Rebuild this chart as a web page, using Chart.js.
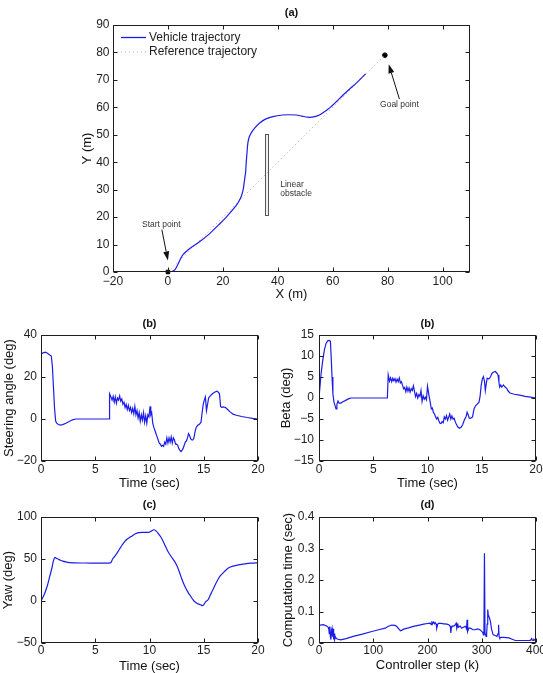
<!DOCTYPE html>
<html>
<head>
<meta charset="utf-8">
<script src="https://cdn.jsdelivr.net/npm/chart.js@4.4.1/dist/chart.umd.min.js"></script>
<style>
  body { margin: 0; background: #fff; width: 543px; height: 673px; overflow: hidden; position: relative; }
  canvas { position: absolute; }
</style>
</head>
<body>
<canvas id="chartA" style="left:0;top:0" width="543" height="306"></canvas>
<canvas id="chartSteer" style="left:0;top:310px" width="270" height="185"></canvas>
<canvas id="chartBeta" style="left:272px;top:310px" width="271" height="185"></canvas>
<canvas id="chartYaw" style="left:0;top:492px" width="270" height="181"></canvas>
<canvas id="chartComp" style="left:272px;top:492px" width="271" height="181"></canvas>
<script>
// ---- data ----
const xTicksA = [-20, 0, 20, 40, 60, 80, 100];
const yTicksA = [0, 10, 20, 30, 40, 50, 60, 70, 80, 90];
const timeTicks = [0, 5, 10, 15, 20];
const steerTicks = [-20, 0, 20, 40];
const betaTicks = [-15, -10, -5, 0, 5, 10, 15];
const yawTicks = [-50, 0, 50, 100];
const stepTicks = [0, 100, 200, 300, 400];
const compTicks = [0, 0.1, 0.2, 0.3, 0.4];

// (a) path in metres [x, y]
const vehiclePath = [[1.2,0],[2.5,0.8],[3.6,2.7],[4.6,4.8],[5.5,6.3],[7.5,8.2],[11.5,11],[15.2,14],[18.8,17.5],[21.5,20.3],[24.9,24.3],[25.8,25.7],[26.7,27.5],[27.4,30],[27.9,33.6],[28.3,36.5],[28.5,39.7],[28.8,43.5],[29.1,46.9],[29.6,49.2],[30.3,50.6],[31.5,52.3],[33.3,54.2],[35.5,55.7],[38.2,56.6],[41.8,57.2],[44,57.3],[46.7,57.2],[48.8,56.8],[50.9,56.4],[53,56.5],[55.2,57.2],[56.8,58.3],[58.8,59.7],[61.5,62.2],[63.6,64.3],[66.1,66.6],[69,69.2],[72,72.2]];
const referencePath = [[0,0],[79,79]];
const startPoint = [0, 0];
const goalPoint = [79, 79];
const obstacleX = [35.3, 36.5];
const obstacleY = [21, 50.4];

// (b) steering angle [t, deg]
const steer = [[0,31],[0.2,31.5],[0.4,31.8],[0.6,31.3],[0.8,30.5],[0.95,30],[1.05,25],[1.15,15],[1.25,5],[1.35,-1],[1.45,-2],[1.6,-2.6],[1.8,-2.9],[2,-2.7],[2.3,-2],[2.6,-1.2],[2.9,-0.4],[3.2,0],[6.28,0],[6.32,12],[6.45,10.5],[6.55,9],[6.65,10.8],[6.75,8],[6.85,10.5],[6.95,7.5],[7.05,10],[7.15,9],[7.25,11],[7.35,8.5],[7.45,9.5],[7.55,7],[7.65,8],[7.75,5.5],[7.85,7],[7.95,4.5],[8.05,6.5],[8.15,4],[8.25,5.5],[8.35,3],[8.45,5],[8.55,2.5],[8.65,6],[8.75,2],[8.85,4],[8.95,0.5],[9.05,3],[9.15,-1],[9.25,2],[9.35,-0.5],[9.45,3],[9.55,-1.5],[9.65,1.5],[9.75,-2],[9.85,2],[9.95,1],[10.05,6],[10.12,2],[10.2,3],[10.3,-2],[10.4,-4],[10.5,-5.5],[10.6,-7],[10.7,-8.5],[10.8,-10],[10.9,-11.5],[11,-12],[11.1,-13],[11.2,-12.5],[11.3,-13],[11.4,-11],[11.5,-12],[11.6,-9],[11.7,-11.5],[11.8,-9],[11.9,-11],[12,-8.5],[12.1,-11.5],[12.2,-9],[12.3,-10],[12.4,-12],[12.5,-12],[12.6,-12.5],[12.7,-14],[12.8,-15],[12.9,-15.5],[13,-15],[13.1,-14],[13.2,-12.5],[13.3,-11],[13.4,-10.5],[13.5,-9],[13.6,-7],[13.7,-8],[13.8,-9.5],[13.9,-10],[14,-10],[14.1,-9],[14.2,-6],[14.3,-4],[14.45,-3],[14.6,-2.5],[14.75,-1.5],[14.85,3],[14.95,7],[15.05,9],[15.15,10.5],[15.25,4],[15.35,7],[15.45,10],[15.6,11],[15.8,12],[16,12.7],[16.2,13.2],[16.35,12.8],[16.45,12],[16.55,6],[16.65,5.6],[16.8,5.8],[17,5.5],[17.2,4.5],[17.4,3.5],[17.7,2.3],[18,1.8],[18.5,1.2],[19,0.7],[19.5,0.3],[20,0]];

// (b) beta [t, deg]
const beta = [[0,0],[0.1,3],[0.2,6],[0.35,9],[0.5,11.5],[0.65,13],[0.8,13.6],[0.95,13.7],[1.05,13.5],[1.12,10],[1.2,5],[1.28,1],[1.38,-1],[1.5,-2],[1.57,-2.6],[1.65,-1.5],[1.75,-0.7],[1.85,-1.2],[2,-1.2],[2.2,-0.9],[2.5,-0.5],[2.8,-0.1],[3,0],[6.3,0],[6.38,5.5],[6.5,4],[6.6,4.8],[6.7,3.9],[6.8,4.7],[6.9,4.1],[7,4.6],[7.1,3.8],[7.2,4.5],[7.3,3.9],[7.4,4.8],[7.5,3.6],[7.6,3.9],[7.7,3],[7.8,2.2],[7.9,2.5],[8,1.5],[8.1,2.6],[8.2,1.6],[8.3,2.4],[8.4,1.4],[8.5,2.2],[8.6,1.8],[8.7,2.9],[8.8,1.6],[8.9,0.3],[9,1.1],[9.1,0],[9.2,0.8],[9.3,0.4],[9.4,1.8],[9.5,-0.8],[9.6,0.5],[9.7,-0.3],[9.8,0.2],[9.9,-0.4],[10,2.8],[10.08,1.5],[10.15,0.4],[10.25,-1],[10.35,-2.6],[10.45,-2.4],[10.55,-3.5],[10.65,-3.8],[10.75,-4.5],[10.85,-5],[10.95,-4.6],[11.05,-5.5],[11.15,-6],[11.25,-6.1],[11.35,-5.6],[11.45,-5.9],[11.55,-4.5],[11.65,-5],[11.75,-4.2],[11.85,-5.3],[11.95,-4.6],[12.05,-3.8],[12.15,-5],[12.25,-4.3],[12.35,-5],[12.45,-4.8],[12.55,-5.6],[12.65,-6.2],[12.8,-6.9],[12.95,-7.2],[13.1,-7],[13.25,-6.3],[13.4,-5.2],[13.55,-4.5],[13.65,-3.4],[13.75,-4],[13.85,-4.8],[14,-4.8],[14.15,-4.5],[14.3,-2.5],[14.45,-1.8],[14.6,-1.4],[14.75,-1],[14.85,0.5],[14.95,3],[15.05,4.5],[15.15,5.1],[15.25,4],[15.33,1.8],[15.42,3.5],[15.5,4.7],[15.65,4.5],[15.8,5],[15.95,5.9],[16.1,6.2],[16.25,6.3],[16.4,5.9],[16.5,5.5],[16.58,3.8],[16.65,2.6],[16.75,3.1],[16.85,2.6],[17,3.1],[17.15,2.6],[17.3,2.3],[17.45,1.6],[17.6,1.2],[18,0.9],[18.5,0.7],[19,0.4],[19.5,0.2],[20,0]];

// (c) yaw [t, deg]
const yaw = [[0,0],[0.2,5],[0.4,11],[0.6,19],[0.8,29],[1,39],[1.15,48],[1.28,52],[1.4,51],[1.6,49.8],[1.8,48.5],[2,47.5],[2.3,46.5],[2.6,45.7],[3,45.5],[6.4,45.5],[6.6,50],[6.9,55],[7.2,61],[7.5,67],[7.8,72],[8.1,75],[8.4,77.5],[8.7,80],[9,81.3],[9.5,81.7],[10,82],[10.2,83.5],[10.4,84.8],[10.6,83.5],[10.8,80.5],[11.1,75],[11.4,67],[11.7,59],[12,53],[12.3,47.5],[12.6,40],[12.9,29],[13.2,19],[13.5,11.5],[13.8,5.5],[14.1,0],[14.4,-3],[14.7,-4.5],[14.9,-5.5],[15.05,-3.5],[15.2,-0.5],[15.4,1.5],[15.6,7],[15.9,15],[16.2,23],[16.5,29.5],[16.9,35],[17.3,39.5],[17.7,41.5],[18.2,43],[18.8,44.2],[19.4,45],[20,45.5]];

// (d) computation time [step, sec]
const compTime = [[0,0.056],[8,0.058],[14,0.054],[17,0.05],[18,0.045],[19,0.03],[20,0.052],[21,0.02],[22,0.011],[23,0.04],[24,0.047],[25,0.02],[26,0.045],[27,0.011],[28,0.03],[29,0.012],[30,0.02],[32,0.014],[35,0.012],[40,0.01],[50,0.014],[63,0.021],[80,0.028],[94,0.035],[110,0.042],[122,0.047],[128,0.053],[134,0.057],[140,0.056],[143,0.053],[147,0.045],[150,0.039],[153,0.041],[156,0.044],[165,0.048],[174,0.053],[185,0.057],[193,0.06],[200,0.062],[205,0.063],[207,0.058],[208,0.069],[209,0.06],[211,0.066],[213,0.061],[214,0.065],[216,0.06],[217,0.047],[219,0.06],[220,0.062],[225,0.062],[230,0.061],[236,0.06],[240,0.057],[242,0.053],[243,0.032],[244,0.05],[245,0.053],[250,0.055],[253,0.063],[254,0.047],[256,0.058],[257,0.05],[260,0.054],[263,0.047],[266,0.05],[270,0.053],[272,0.045],[273,0.074],[274,0.037],[276,0.047],[279,0.047],[284,0.042],[288,0.042],[292,0.045],[296,0.043],[300,0.037],[302,0.033],[303,0.026],[304,0.03],[305,0.285],[306,0.03],[307,0.026],[308,0.021],[309,0.03],[310,0.06],[311,0.106],[312,0.09],[314,0.08],[316,0.069],[318,0.045],[321,0.026],[325,0.024],[328,0.021],[330,0.03],[331,0.058],[332,0.02],[333,0.016],[336,0.018],[340,0.018],[345,0.017],[350,0.016],[356,0.012],[362,0.008],[375,0.008],[388,0.008],[390,0.009],[392,0.014],[393,0.009],[395,0.008],[396,0.012],[400,0.008]];

// ---- drawing ----
const FONT = '"Liberation Sans", Arial, sans-serif';
const BLUE = 'rgb(28,28,232)';
const INK = '#1e1e1e';

const pts = arr => arr.map(p => ({ x: p[0], y: p[1] }));

function line(arr) {
  return { data: pts(arr), showLine: true, borderColor: BLUE, borderWidth: 1.2, pointRadius: 0, tension: 0 };
}

// box round the plot with inward tick marks, plus the panel title
const frame = {
  id: 'frame',
  afterDatasetsDraw(chart, args, opts) {
    const { ctx, chartArea: a, scales } = chart;
    const L = Math.round(a.left) + 0.5, R = Math.round(a.right) - 0.5;
    const T = Math.round(a.top) + 0.5, B = Math.round(a.bottom) - 0.5;
    ctx.save();
    ctx.strokeStyle = INK;
    ctx.lineWidth = 1;
    ctx.strokeRect(L, T, R - L, B - T);
    ctx.beginPath();
    scales.x.ticks.forEach(t => {
      const p = Math.round(scales.x.getPixelForValue(t.value)) + 0.5;
      ctx.moveTo(p, B); ctx.lineTo(p, B - 4);
      ctx.moveTo(p, T); ctx.lineTo(p, T + 4);
    });
    scales.y.ticks.forEach(t => {
      const p = Math.round(scales.y.getPixelForValue(t.value)) + 0.5;
      ctx.moveTo(L, p); ctx.lineTo(L + 4, p);
      ctx.moveTo(R, p); ctx.lineTo(R - 4, p);
    });
    ctx.stroke();
    ctx.fillStyle = '#111';
    ctx.font = 'bold 11px ' + FONT;
    ctx.textAlign = 'center';
    ctx.textBaseline = 'middle';
    ctx.fillText(opts.title, (a.left + a.right) / 2, a.top - opts.gap);
    ctx.restore();
  }
};

function arrow(ctx, x0, y0, x1, y1) {
  const ang = Math.atan2(y1 - y0, x1 - x0);
  const hl = 9, hw = 3;
  ctx.beginPath();
  ctx.moveTo(x0, y0);
  ctx.lineTo(x1 - hl * Math.cos(ang), y1 - hl * Math.sin(ang));
  ctx.stroke();
  ctx.beginPath();
  ctx.moveTo(x1, y1);
  ctx.lineTo(x1 - hl * Math.cos(ang) + hw * Math.sin(ang), y1 - hl * Math.sin(ang) - hw * Math.cos(ang));
  ctx.lineTo(x1 - hl * Math.cos(ang) - hw * Math.sin(ang), y1 - hl * Math.sin(ang) + hw * Math.cos(ang));
  ctx.closePath();
  ctx.fill();
}

const notesA = [
  { text: 'Start point', x: -2.4, y: 17.3, align: 'center' },
  { text: 'Goal point', x: 84.3, y: 60.9, align: 'center' },
  { text: 'Linear', x: 40.9, y: 31.8, align: 'left' },
  { text: 'obstacle', x: 40.9, y: 28.4, align: 'left' }
];
const arrowsA = [[-2.2, 15.4, 0, 4.2], [84.3, 63, 80.4, 75.7]];

const sceneA = {
  id: 'sceneA',
  beforeDatasetsDraw(chart) {
    const { ctx, scales: { x, y } } = chart;
    const x0 = x.getPixelForValue(obstacleX[0]), x1 = x.getPixelForValue(obstacleX[1]);
    const y0 = y.getPixelForValue(obstacleY[1]), y1 = y.getPixelForValue(obstacleY[0]);
    ctx.save();
    ctx.fillStyle = '#f0f0f0';
    ctx.strokeStyle = '#555';
    ctx.lineWidth = 1;
    ctx.fillRect(x0, y0, x1 - x0, y1 - y0);
    ctx.strokeRect(Math.round(x0) + 0.5, Math.round(y0) + 0.5, Math.round(x1 - x0), Math.round(y1 - y0));
    ctx.restore();
  },
  afterDatasetsDraw(chart) {
    const { ctx, chartArea: a, scales: { x, y } } = chart;
    ctx.save();
    ctx.font = '8.5px ' + FONT;
    ctx.fillStyle = '#333';
    ctx.textBaseline = 'middle';
    notesA.forEach(n => {
      ctx.textAlign = n.align;
      ctx.fillText(n.text, x.getPixelForValue(n.x), y.getPixelForValue(n.y));
    });
    ctx.fillStyle = '#111';
    ctx.strokeStyle = '#111';
    ctx.lineWidth = 1;
    arrowsA.forEach(r => arrow(ctx, x.getPixelForValue(r[0]), y.getPixelForValue(r[1]), x.getPixelForValue(r[2]), y.getPixelForValue(r[3])));
    // legend
    const lx = a.left + 8, ly = a.top + 12.5;
    ctx.strokeStyle = BLUE;
    ctx.lineWidth = 1.3;
    ctx.beginPath(); ctx.moveTo(lx, ly); ctx.lineTo(lx + 25, ly); ctx.stroke();
    ctx.strokeStyle = 'rgba(235,110,110,0.8)';
    ctx.lineWidth = 1;
    ctx.setLineDash([1, 3]);
    ctx.beginPath(); ctx.moveTo(lx, ly + 14.5); ctx.lineTo(lx + 25, ly + 14.5); ctx.stroke();
    ctx.setLineDash([]);
    ctx.fillStyle = INK;
    ctx.font = '12px ' + FONT;
    ctx.textAlign = 'left';
    ctx.fillText('Vehicle trajectory', lx + 28, ly);
    ctx.fillText('Reference trajectory', lx + 28, ly + 14.5);
    ctx.restore();
  }
};

function axis(a, dir) {
  return {
    type: 'linear',
    min: a.min,
    max: a.max,
    grid: { display: false, drawTicks: false },
    border: { display: false },
    afterBuildTicks: s => { s.ticks = a.ticks.map(v => ({ value: v })); },
    afterFit: s => {
      if (dir === 'x') { s.height = a.size; s.paddingLeft = 0; s.paddingRight = 0; }
      else { s.width = a.size; s.paddingTop = 0; s.paddingBottom = 0; }
    },
    ticks: {
      autoSkip: false, maxRotation: 0, padding: a.tickPad, color: INK,
      font: { family: FONT, size: 12 },
      callback: v => String(v).replace('-', '\u2212')
    },
    title: {
      display: true, text: a.label, color: '#111',
      font: { family: FONT, size: 13, lineHeight: 1 },
      padding: dir === 'x' ? { top: 0, bottom: a.titlePad } : { top: a.titlePad, bottom: 0 }
    }
  };
}

function panel(id, cfg) {
  return new Chart(document.getElementById(id), {
    type: 'scatter',
    data: { datasets: cfg.datasets },
    options: {
      responsive: false,
      animation: false,
      devicePixelRatio: 1,
      layout: { padding: { top: 25, right: cfg.padRight, left: 0, bottom: 0 } },
      plugins: {
        legend: { display: false },
        tooltip: { enabled: false },
        frame: { title: cfg.title, gap: cfg.gap }
      },
      scales: { x: axis(cfg.x, 'x'), y: axis(cfg.y, 'y') }
    },
    plugins: [frame].concat(cfg.extra || [])
  });
}

panel('chartA', {
  title: '(a)', gap: 12.5, padRight: 73,
  datasets: [
    Object.assign(line(vehiclePath), { tension: 0.3 }),
    { data: pts(referencePath), showLine: true, borderColor: 'rgba(235,110,110,0.8)', borderWidth: 1, borderDash: [1, 3], pointRadius: 0 },
    { data: [{ x: startPoint[0], y: startPoint[1] }], pointStyle: 'rect', pointRadius: 2.5, backgroundColor: '#000', borderColor: '#000', clip: false },
    { data: [{ x: goalPoint[0], y: goalPoint[1] }], pointRadius: 2.3, backgroundColor: '#000', borderColor: '#000' }
  ],
  x: { min: -20, max: 110, ticks: xTicksA, label: 'X (m)', size: 34, tickPad: 2.3, titlePad: 5.5 },
  y: { min: 0, max: 90, ticks: yTicksA, label: 'Y (m)', size: 113, tickPad: 3.5, titlePad: 80.8 },
  extra: [sceneA]
});

panel('chartSteer', {
  title: '(b)', gap: 11, padRight: 12,
  datasets: [line(steer)],
  x: { min: 0, max: 20, ticks: timeTicks, label: 'Time (sec)', size: 34, tickPad: 1.8, titlePad: 5.2 },
  y: { min: -20, max: 40, ticks: steerTicks, label: 'Steering angle (deg)', size: 41, tickPad: 4, titlePad: 2.5 }
});

panel('chartBeta', {
  title: '(b)', gap: 11, padRight: 7,
  datasets: [line(beta)],
  x: { min: 0, max: 20, ticks: timeTicks, label: 'Time (sec)', size: 34, tickPad: 1.8, titlePad: 5.2 },
  y: { min: -15, max: 15, ticks: betaTicks, label: 'Beta (deg)', size: 47, tickPad: 5, titlePad: 7.5 }
});

panel('chartYaw', {
  title: '(c)', gap: 12, padRight: 12,
  datasets: [Object.assign(line(yaw), { tension: 0.3 })],
  x: { min: 0, max: 20, ticks: timeTicks, label: 'Time (sec)', size: 30, tickPad: 0.3, titlePad: 0 },
  y: { min: -50, max: 100, ticks: yawTicks, label: 'Yaw (deg)', size: 41, tickPad: 4, titlePad: 1.5 }
});

panel('chartComp', {
  title: '(d)', gap: 12, padRight: 7,
  datasets: [line(compTime)],
  x: { min: 0, max: 400, ticks: stepTicks, label: 'Controller step (k)', size: 30, tickPad: 0.5, titlePad: 0.8 },
  y: { min: 0, max: 0.4, ticks: compTicks, label: 'Computation time (sec)', size: 47, tickPad: 4.5, titlePad: 9.5 }
});
</script>
</body>
</html>
